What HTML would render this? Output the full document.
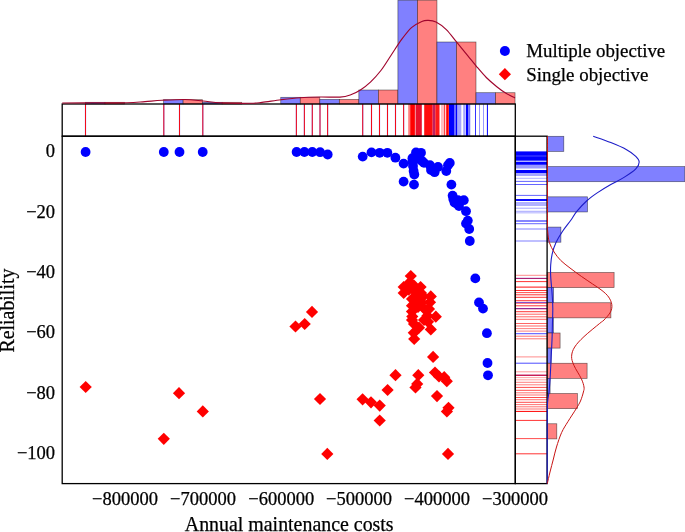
<!DOCTYPE html>
<html><head><meta charset="utf-8"><title>Scatter plot with marginal histograms</title>
<style>html,body{margin:0;padding:0;background:#fff;overflow:hidden}svg{display:block}</style></head>
<body>
<svg width="685" height="532" viewBox="0 0 685 532">
<rect width="685" height="532" fill="#fff"/>
<g stroke="#000" stroke-opacity="0.55" stroke-width="0.7">
<rect x="85.50" y="102.30" width="19.52" height="1.70" fill="#8080ff"/>
<rect x="105.03" y="102.30" width="19.52" height="1.70" fill="#ff8080"/>
<rect x="163.60" y="99.70" width="19.52" height="4.30" fill="#8080ff"/>
<rect x="183.12" y="99.70" width="19.52" height="4.30" fill="#ff8080"/>
<rect x="202.65" y="102.30" width="19.52" height="1.70" fill="#8080ff"/>
<rect x="222.17" y="102.30" width="19.52" height="1.70" fill="#ff8080"/>
<rect x="280.75" y="97.30" width="19.52" height="6.70" fill="#8080ff"/>
<rect x="300.27" y="97.30" width="19.52" height="6.70" fill="#ff8080"/>
<rect x="319.80" y="99.40" width="19.52" height="4.60" fill="#8080ff"/>
<rect x="339.32" y="99.40" width="19.52" height="4.60" fill="#ff8080"/>
<rect x="358.85" y="90.00" width="19.52" height="14.00" fill="#8080ff"/>
<rect x="378.37" y="90.00" width="19.52" height="14.00" fill="#ff8080"/>
<rect x="397.90" y="0.20" width="19.52" height="103.80" fill="#8080ff"/>
<rect x="417.42" y="0.20" width="19.52" height="103.80" fill="#ff8080"/>
<rect x="436.95" y="42.00" width="19.52" height="62.00" fill="#8080ff"/>
<rect x="456.47" y="42.00" width="19.52" height="62.00" fill="#ff8080"/>
<rect x="476.00" y="92.70" width="19.52" height="11.30" fill="#8080ff"/>
<rect x="495.52" y="92.70" width="19.52" height="11.30" fill="#ff8080"/>
</g>
<g stroke="#000" stroke-opacity="0.55" stroke-width="0.7">
<rect x="547.10" y="136.30" width="16.70" height="15.13" fill="#8080ff"/>
<rect x="547.10" y="166.56" width="137.70" height="15.13" fill="#8080ff"/>
<rect x="547.10" y="196.82" width="40.40" height="15.13" fill="#8080ff"/>
<rect x="547.10" y="227.08" width="13.80" height="15.13" fill="#8080ff"/>
<rect x="547.10" y="272.47" width="67.00" height="15.13" fill="#ff8080"/>
<rect x="547.10" y="287.60" width="6.50" height="15.13" fill="#8080ff"/>
<rect x="547.10" y="302.73" width="63.80" height="15.13" fill="#ff8080"/>
<rect x="547.10" y="317.86" width="6.30" height="15.13" fill="#8080ff"/>
<rect x="547.10" y="332.99" width="13.00" height="15.13" fill="#ff8080"/>
<rect x="547.10" y="348.12" width="4.00" height="15.13" fill="#8080ff"/>
<rect x="547.10" y="363.25" width="40.00" height="15.13" fill="#ff8080"/>
<rect x="547.10" y="378.38" width="3.00" height="15.13" fill="#8080ff"/>
<rect x="547.10" y="393.51" width="30.30" height="15.13" fill="#ff8080"/>
<rect x="547.10" y="423.77" width="9.70" height="15.13" fill="#ff8080"/>
</g>
<g stroke="#0000ff" stroke-width="1.2" stroke-opacity="0.5">
<line x1="85.5" y1="104.0" x2="85.5" y2="136.2"/>
<line x1="163.8" y1="104.0" x2="163.8" y2="136.2"/>
<line x1="179.5" y1="104.0" x2="179.5" y2="136.2"/>
<line x1="202.8" y1="104.0" x2="202.8" y2="136.2"/>
<line x1="296.4" y1="104.0" x2="296.4" y2="136.2"/>
<line x1="304.4" y1="104.0" x2="304.4" y2="136.2"/>
<line x1="312.3" y1="104.0" x2="312.3" y2="136.2"/>
<line x1="320.0" y1="104.0" x2="320.0" y2="136.2"/>
<line x1="327.6" y1="104.0" x2="327.6" y2="136.2"/>
<line x1="362.7" y1="104.0" x2="362.7" y2="136.2"/>
<line x1="371.5" y1="104.0" x2="371.5" y2="136.2"/>
<line x1="379.5" y1="104.0" x2="379.5" y2="136.2"/>
<line x1="387.5" y1="104.0" x2="387.5" y2="136.2"/>
<line x1="395.5" y1="104.0" x2="395.5" y2="136.2"/>
<line x1="403.6" y1="104.0" x2="403.6" y2="136.2"/>
</g>
<g stroke="#ff0000" stroke-width="1" stroke-opacity="0.9">
<line x1="85.5" y1="104.0" x2="85.5" y2="136.2"/>
<line x1="163.8" y1="104.0" x2="163.8" y2="136.2"/>
<line x1="179.5" y1="104.0" x2="179.5" y2="136.2"/>
<line x1="202.8" y1="104.0" x2="202.8" y2="136.2"/>
<line x1="296.4" y1="104.0" x2="296.4" y2="136.2"/>
<line x1="304.4" y1="104.0" x2="304.4" y2="136.2"/>
<line x1="312.3" y1="104.0" x2="312.3" y2="136.2"/>
<line x1="320.0" y1="104.0" x2="320.0" y2="136.2"/>
<line x1="327.6" y1="104.0" x2="327.6" y2="136.2"/>
<line x1="362.7" y1="104.0" x2="362.7" y2="136.2"/>
<line x1="371.5" y1="104.0" x2="371.5" y2="136.2"/>
<line x1="379.5" y1="104.0" x2="379.5" y2="136.2"/>
<line x1="387.5" y1="104.0" x2="387.5" y2="136.2"/>
<line x1="395.5" y1="104.0" x2="395.5" y2="136.2"/>
<line x1="403.6" y1="104.0" x2="403.6" y2="136.2"/>
</g>
<rect x="408.2" y="104.0" width="2.0" height="32.2" fill="#ff0000" fill-opacity="0.5"/>
<rect x="410.2" y="104.0" width="4.7" height="32.2" fill="#ff0000" fill-opacity="1"/>
<rect x="415.5" y="104.0" width="6.3" height="32.2" fill="#e8102c" fill-opacity="1"/>
<rect x="424.2" y="104.0" width="8.5" height="32.2" fill="#ff0000" fill-opacity="0.95"/>
<rect x="432.7" y="104.0" width="2.6" height="32.2" fill="#c02060" fill-opacity="1"/>
<rect x="435.3" y="104.0" width="4.2" height="32.2" fill="#ff0000" fill-opacity="0.9"/>
<rect x="441.0" y="104.0" width="3.0" height="32.2" fill="#ff0000" fill-opacity="0.25"/>
<rect x="444.2" y="104.0" width="1.0" height="32.2" fill="#ff0000" fill-opacity="0.9"/>
<rect x="446.2" y="104.0" width="2.6" height="32.2" fill="#ff0000" fill-opacity="1"/>
<rect x="449.0" y="104.0" width="5.2" height="32.2" fill="#0000ff" fill-opacity="1"/>
<rect x="454.2" y="104.0" width="1.5" height="32.2" fill="#0000ff" fill-opacity="0.6"/>
<rect x="455.7" y="104.0" width="1.5" height="32.2" fill="#0000ff" fill-opacity="1"/>
<rect x="457.2" y="104.0" width="4.1" height="32.2" fill="#0000ff" fill-opacity="0.35"/>
<rect x="463.2" y="104.0" width="2.2" height="32.2" fill="#0000ff" fill-opacity="0.35"/>
<rect x="465.9" y="104.0" width="2.6" height="32.2" fill="#0000ff" fill-opacity="1"/>
<rect x="469.2" y="104.0" width="1.0" height="32.2" fill="#0000ff" fill-opacity="0.7"/>
<rect x="475.0" y="104.0" width="1.0" height="32.2" fill="#0000ff" fill-opacity="0.8"/>
<rect x="479.0" y="104.0" width="1.0" height="32.2" fill="#0000ff" fill-opacity="0.4"/>
<rect x="483.0" y="104.0" width="1.0" height="32.2" fill="#0000ff" fill-opacity="0.4"/>
<rect x="486.9" y="104.0" width="1.0" height="32.2" fill="#0000ff" fill-opacity="1"/>
<rect x="515.3" y="151.4" width="31.8" height="9.3" fill="#0000ff" fill-opacity="1"/>
<rect x="515.3" y="155.5" width="31.8" height="1.0" fill="#fff" fill-opacity="0.3"/>
<rect x="515.3" y="161.7" width="31.8" height="3.1" fill="#0000ff" fill-opacity="1"/>
<rect x="515.3" y="165.0" width="31.8" height="3.5" fill="#0000ff" fill-opacity="0.4"/>
<rect x="515.3" y="170.0" width="31.8" height="3.0" fill="#0000ff" fill-opacity="1"/>
<rect x="515.3" y="173.0" width="31.8" height="3.0" fill="#0000ff" fill-opacity="0.35"/>
<rect x="515.3" y="177.8" width="31.8" height="1.0" fill="#0000ff" fill-opacity="0.3"/>
<rect x="515.3" y="180.9" width="31.8" height="1.0" fill="#0000ff" fill-opacity="0.6"/>
<rect x="515.3" y="184.0" width="31.8" height="1.0" fill="#0000ff" fill-opacity="0.6"/>
<rect x="515.3" y="194.9" width="31.8" height="1.0" fill="#0000ff" fill-opacity="0.6"/>
<rect x="515.3" y="199.0" width="31.8" height="2.0" fill="#0000ff" fill-opacity="0.95"/>
<rect x="515.3" y="202.5" width="31.8" height="1.0" fill="#0000ff" fill-opacity="0.6"/>
<rect x="515.3" y="204.5" width="31.8" height="1.0" fill="#0000ff" fill-opacity="0.6"/>
<rect x="515.3" y="207.7" width="31.8" height="1.0" fill="#0000ff" fill-opacity="0.35"/>
<rect x="515.3" y="210.8" width="31.8" height="1.0" fill="#0000ff" fill-opacity="0.35"/>
<rect x="515.3" y="212.4" width="31.8" height="0.9" fill="#0000ff" fill-opacity="0.35"/>
<rect x="515.3" y="220.5" width="31.8" height="1.0" fill="#0000ff" fill-opacity="0.95"/>
<rect x="515.3" y="223.2" width="31.8" height="1.0" fill="#0000ff" fill-opacity="0.6"/>
<rect x="515.3" y="228.5" width="31.8" height="1.0" fill="#0000ff" fill-opacity="0.5"/>
<rect x="515.3" y="240.5" width="31.8" height="1.0" fill="#0000ff" fill-opacity="0.5"/>
<rect x="515.3" y="277.9" width="31.8" height="1.0" fill="#0000ff" fill-opacity="0.8"/>
<rect x="515.3" y="302.0" width="31.8" height="1.0" fill="#0000ff" fill-opacity="0.6"/>
<rect x="515.3" y="308.1" width="31.8" height="1.0" fill="#0000ff" fill-opacity="0.8"/>
<rect x="515.3" y="333.2" width="31.8" height="1.0" fill="#0000ff" fill-opacity="0.7"/>
<rect x="515.3" y="362.7" width="31.8" height="1.0" fill="#0000ff" fill-opacity="0.7"/>
<rect x="515.3" y="374.8" width="31.8" height="1.0" fill="#0000ff" fill-opacity="0.8"/>
<rect x="515.3" y="274.8" width="31.8" height="1" fill="#ff0000" fill-opacity="0.45"/>
<rect x="515.3" y="277.9" width="31.8" height="1" fill="#ff0000" fill-opacity="0.6"/>
<rect x="515.3" y="281.1" width="31.8" height="1" fill="#ff0000" fill-opacity="0.8"/>
<rect x="515.3" y="286.6" width="31.8" height="1" fill="#ff0000" fill-opacity="0.95"/>
<rect x="515.3" y="290.0" width="31.8" height="1" fill="#ff0000" fill-opacity="0.8"/>
<rect x="515.3" y="292.1" width="31.8" height="1" fill="#ff0000" fill-opacity="0.7"/>
<rect x="515.3" y="294.3" width="31.8" height="1" fill="#ff0000" fill-opacity="0.8"/>
<rect x="515.3" y="296.8" width="31.8" height="1" fill="#ff0000" fill-opacity="0.8"/>
<rect x="515.3" y="300.2" width="31.8" height="1" fill="#ff0000" fill-opacity="0.8"/>
<rect x="515.3" y="302.7" width="31.8" height="1" fill="#ff0000" fill-opacity="0.7"/>
<rect x="515.3" y="305.3" width="31.8" height="1" fill="#ff0000" fill-opacity="0.8"/>
<rect x="515.3" y="308.3" width="31.8" height="1" fill="#ff0000" fill-opacity="0.6"/>
<rect x="515.3" y="311.2" width="31.8" height="1" fill="#ff0000" fill-opacity="0.8"/>
<rect x="515.3" y="313.7" width="31.8" height="1" fill="#ff0000" fill-opacity="0.6"/>
<rect x="515.3" y="316.3" width="31.8" height="1" fill="#ff0000" fill-opacity="0.6"/>
<rect x="515.3" y="318.8" width="31.8" height="1" fill="#ff0000" fill-opacity="0.6"/>
<rect x="515.3" y="323.0" width="31.8" height="1" fill="#ff0000" fill-opacity="0.6"/>
<rect x="515.3" y="325.5" width="31.8" height="1" fill="#ff0000" fill-opacity="0.6"/>
<rect x="515.3" y="328.1" width="31.8" height="1" fill="#ff0000" fill-opacity="0.5"/>
<rect x="515.3" y="330.6" width="31.8" height="1" fill="#ff0000" fill-opacity="0.5"/>
<rect x="515.3" y="335.7" width="31.8" height="1" fill="#ff0000" fill-opacity="0.55"/>
<rect x="515.3" y="338.3" width="31.8" height="1" fill="#ff0000" fill-opacity="0.55"/>
<rect x="515.3" y="356.4" width="31.8" height="1" fill="#ff0000" fill-opacity="0.45"/>
<rect x="515.3" y="371.3" width="31.8" height="1" fill="#ff0000" fill-opacity="0.4"/>
<rect x="515.3" y="374.7" width="31.8" height="1" fill="#ff0000" fill-opacity="0.95"/>
<rect x="515.3" y="377.1" width="31.8" height="1" fill="#ff0000" fill-opacity="0.35"/>
<rect x="515.3" y="379.3" width="31.8" height="1" fill="#ff0000" fill-opacity="0.35"/>
<rect x="515.3" y="381.8" width="31.8" height="1" fill="#ff0000" fill-opacity="0.5"/>
<rect x="515.3" y="384.3" width="31.8" height="1" fill="#ff0000" fill-opacity="0.5"/>
<rect x="515.3" y="386.9" width="31.8" height="1" fill="#ff0000" fill-opacity="0.7"/>
<rect x="515.3" y="389.8" width="31.8" height="1" fill="#ff0000" fill-opacity="0.7"/>
<rect x="515.3" y="392.3" width="31.8" height="1" fill="#ff0000" fill-opacity="0.55"/>
<rect x="515.3" y="394.5" width="31.8" height="1" fill="#ff0000" fill-opacity="0.55"/>
<rect x="515.3" y="397.0" width="31.8" height="1" fill="#ff0000" fill-opacity="0.7"/>
<rect x="515.3" y="399.2" width="31.8" height="1" fill="#ff0000" fill-opacity="0.55"/>
<rect x="515.3" y="401.8" width="31.8" height="1" fill="#ff0000" fill-opacity="0.7"/>
<rect x="515.3" y="404.1" width="31.8" height="1" fill="#ff0000" fill-opacity="0.55"/>
<rect x="515.3" y="406.3" width="31.8" height="1" fill="#ff0000" fill-opacity="0.55"/>
<rect x="515.3" y="408.5" width="31.8" height="1" fill="#ff0000" fill-opacity="0.55"/>
<rect x="515.3" y="410.9" width="31.8" height="1" fill="#ff0000" fill-opacity="1"/>
<rect x="515.3" y="419.9" width="31.8" height="1" fill="#ff0000" fill-opacity="0.8"/>
<rect x="515.3" y="438.1" width="31.8" height="1" fill="#ff0000" fill-opacity="0.7"/>
<rect x="515.3" y="453.3" width="31.8" height="1" fill="#ff0000" fill-opacity="0.8"/>
<g fill="none" stroke="#000" stroke-width="1.3">
<rect x="62.20" y="136.20" width="453.10" height="347.40"/>
<rect x="62.20" y="104.00" width="453.10" height="32.20"/>
<rect x="515.30" y="136.20" width="31.80" height="347.40"/>
</g>
<path d="M62.20,103.00 C66.83,102.97 79.20,102.83 90.00,102.80 C100.80,102.77 117.83,103.00 127.00,102.80 C136.17,102.60 139.17,102.02 145.00,101.60 C150.83,101.18 155.33,100.65 162.00,100.30 C168.67,99.95 178.17,99.38 185.00,99.50 C191.83,99.62 197.00,100.43 203.00,101.00 C209.00,101.57 213.17,102.52 221.00,102.90 C228.83,103.28 243.17,103.38 250.00,103.30 C256.83,103.22 256.83,103.00 262.00,102.40 C267.17,101.80 274.67,100.48 281.00,99.70 C287.33,98.92 293.50,98.15 300.00,97.70 C306.50,97.25 313.33,97.10 320.00,97.00 C326.67,96.90 334.97,97.43 340.00,97.10 C345.03,96.77 346.80,96.20 350.20,95.00 C353.60,93.80 356.98,92.10 360.40,89.90 C363.82,87.70 367.28,85.03 370.70,81.80 C374.12,78.57 377.50,74.93 380.90,70.50 C384.30,66.07 387.70,60.30 391.10,55.20 C394.50,50.10 397.90,44.50 401.30,39.90 C404.70,35.30 408.08,30.67 411.50,27.60 C414.92,24.53 419.07,22.70 421.80,21.50 C424.53,20.30 425.53,20.32 427.90,20.40 C430.27,20.48 432.93,20.47 436.00,22.00 C439.07,23.53 442.88,26.28 446.30,29.60 C449.72,32.92 452.90,37.53 456.50,41.90 C460.10,46.27 464.58,51.73 467.90,55.80 C471.22,59.87 473.33,62.68 476.40,66.30 C479.47,69.92 482.90,74.10 486.30,77.50 C489.70,80.90 493.52,84.07 496.80,86.70 C500.08,89.33 502.97,91.43 506.00,93.30 C509.03,95.17 513.50,97.13 515.00,97.90" fill="none" stroke="#a0052d" stroke-width="1.15"/>
<path d="M593.20,136.30 C596.13,137.35 605.23,140.37 610.80,142.60 C616.37,144.83 622.43,147.42 626.60,149.70 C630.77,151.98 633.70,154.23 635.80,156.30 C637.90,158.37 639.20,160.00 639.20,162.10 C639.20,164.20 638.33,166.35 635.80,168.90 C633.27,171.45 628.17,174.80 624.00,177.40 C619.83,180.00 615.20,181.97 610.80,184.50 C606.40,187.03 601.55,189.93 597.60,192.60 C593.65,195.27 590.60,197.33 587.10,200.50 C583.60,203.67 579.28,208.35 576.60,211.60 C573.92,214.85 573.33,216.72 571.00,220.00 C568.67,223.28 565.10,227.53 562.60,231.30 C560.10,235.07 557.73,238.85 556.00,242.60 C554.27,246.35 553.08,250.07 552.20,253.80 C551.32,257.53 550.95,261.23 550.70,265.00 C550.45,268.77 550.45,271.37 550.70,276.40 C550.95,281.43 551.85,289.88 552.20,295.20 C552.55,300.52 552.77,303.33 552.80,308.30 C552.83,313.27 552.53,319.72 552.40,325.00 C552.27,330.28 552.27,333.33 552.00,340.00 C551.73,346.67 551.13,358.33 550.80,365.00 C550.47,371.67 550.30,375.50 550.00,380.00 C549.70,384.50 549.40,388.33 549.00,392.00 C548.60,395.67 547.90,397.33 547.60,402.00 C547.30,406.67 547.27,406.40 547.20,420.00 C547.13,433.60 547.20,473.00 547.20,483.60" fill="none" stroke="#1c1cc8" stroke-width="1.1"/>
<path d="M547.50,136.30 C547.50,150.25 547.47,204.17 547.50,220.00 C547.53,235.83 547.38,227.53 547.70,231.30 C548.02,235.07 548.33,239.15 549.40,242.60 C550.47,246.05 552.22,249.03 554.10,252.00 C555.98,254.97 558.05,257.73 560.70,260.40 C563.35,263.07 566.55,265.33 570.00,268.00 C573.45,270.67 577.63,273.73 581.40,276.40 C585.17,279.07 589.17,281.65 592.60,284.00 C596.03,286.35 599.33,288.33 602.00,290.50 C604.67,292.67 606.97,294.65 608.60,297.00 C610.23,299.35 611.48,302.10 611.80,304.60 C612.12,307.10 611.80,309.43 610.50,312.00 C609.20,314.57 605.80,318.10 604.00,320.00 C602.20,321.90 603.03,320.63 599.70,323.40 C596.37,326.17 588.17,332.67 584.00,336.60 C579.83,340.53 576.77,343.72 574.70,347.00 C572.63,350.28 571.72,353.22 571.60,356.30 C571.48,359.38 572.38,361.77 574.00,365.50 C575.62,369.23 579.63,375.12 581.30,378.70 C582.97,382.28 583.65,384.78 584.00,387.00 C584.35,389.22 583.98,389.67 583.40,392.00 C582.82,394.33 581.73,398.17 580.50,401.00 C579.27,403.83 578.08,405.58 576.00,409.00 C573.92,412.42 570.40,417.57 568.00,421.50 C565.60,425.43 563.52,428.35 561.60,432.60 C559.68,436.85 557.87,442.60 556.50,447.00 C555.13,451.40 554.48,454.83 553.40,459.00 C552.32,463.17 551.02,467.90 550.00,472.00 C548.98,476.10 547.75,481.67 547.30,483.60" fill="none" stroke="#c81414" stroke-width="1.0"/>
<g fill="#0000ff">
<circle cx="85.6" cy="152.0" r="4.9"/>
<circle cx="163.8" cy="152.0" r="4.9"/>
<circle cx="179.5" cy="152.0" r="4.9"/>
<circle cx="202.7" cy="152.0" r="4.9"/>
<circle cx="296.6" cy="152.0" r="4.9"/>
<circle cx="304.4" cy="152.0" r="4.9"/>
<circle cx="312.3" cy="152.0" r="4.9"/>
<circle cx="320.1" cy="152.2" r="4.9"/>
<circle cx="327.7" cy="154.5" r="4.9"/>
<circle cx="362.7" cy="156.6" r="4.9"/>
<circle cx="371.5" cy="152.4" r="4.9"/>
<circle cx="379.7" cy="152.8" r="4.9"/>
<circle cx="387.4" cy="152.8" r="4.9"/>
<circle cx="395.4" cy="157.7" r="4.9"/>
<circle cx="403.6" cy="163.6" r="4.9"/>
<circle cx="403.6" cy="181.6" r="4.9"/>
<circle cx="414.0" cy="184.6" r="4.9"/>
<circle cx="412.4" cy="158.2" r="4.9"/>
<circle cx="416.0" cy="152.4" r="4.9"/>
<circle cx="421.0" cy="152.8" r="4.9"/>
<circle cx="413.6" cy="171.0" r="4.9"/>
<circle cx="414.3" cy="174.5" r="4.9"/>
<circle cx="412.4" cy="161.7" r="4.9"/>
<circle cx="419.4" cy="159.4" r="4.9"/>
<circle cx="424.0" cy="162.9" r="4.9"/>
<circle cx="430.0" cy="165.2" r="4.9"/>
<circle cx="434.6" cy="172.2" r="4.9"/>
<circle cx="431.0" cy="170.0" r="4.9"/>
<circle cx="438.0" cy="167.0" r="4.9"/>
<circle cx="446.3" cy="171.0" r="4.9"/>
<circle cx="448.0" cy="165.2" r="4.9"/>
<circle cx="449.8" cy="162.9" r="4.9"/>
<circle cx="451.4" cy="184.6" r="4.9"/>
<circle cx="452.6" cy="195.6" r="4.9"/>
<circle cx="453.3" cy="199.0" r="4.9"/>
<circle cx="454.5" cy="202.6" r="4.9"/>
<circle cx="458.0" cy="200.2" r="4.9"/>
<circle cx="463.8" cy="200.2" r="4.9"/>
<circle cx="459.0" cy="206.0" r="4.9"/>
<circle cx="466.0" cy="211.2" r="4.9"/>
<circle cx="467.8" cy="220.6" r="4.9"/>
<circle cx="466.0" cy="223.6" r="4.9"/>
<circle cx="469.2" cy="229.0" r="4.9"/>
<circle cx="469.8" cy="241.0" r="4.9"/>
<circle cx="413.0" cy="166.0" r="4.9"/>
<circle cx="422.0" cy="161.0" r="4.9"/>
<circle cx="456.5" cy="203.5" r="4.9"/>
<circle cx="475.3" cy="278.4" r="4.9"/>
<circle cx="479.0" cy="302.5" r="4.9"/>
<circle cx="483.0" cy="308.6" r="4.9"/>
<circle cx="486.9" cy="333.2" r="4.9"/>
<circle cx="487.5" cy="363.0" r="4.9"/>
<circle cx="488.0" cy="375.3" r="4.9"/>
</g>
<g fill="#ff0000">
<path d="M410.8,269.9l6.1,6.1l-6.1,6.1l-6.1,-6.1z"/>
<path d="M403.7,280.9l6.1,6.1l-6.1,6.1l-6.1,-6.1z"/>
<path d="M403.7,286.9l6.1,6.1l-6.1,6.1l-6.1,-6.1z"/>
<path d="M420.6,280.9l6.1,6.1l-6.1,6.1l-6.1,-6.1z"/>
<path d="M413.8,279.3l6.1,6.1l-6.1,6.1l-6.1,-6.1z"/>
<path d="M415.5,285.9l6.1,6.1l-6.1,6.1l-6.1,-6.1z"/>
<path d="M430.8,290.3l6.1,6.1l-6.1,6.1l-6.1,-6.1z"/>
<path d="M423.0,290.3l6.1,6.1l-6.1,6.1l-6.1,-6.1z"/>
<path d="M412.0,292.9l6.1,6.1l-6.1,6.1l-6.1,-6.1z"/>
<path d="M430.0,296.2l6.1,6.1l-6.1,6.1l-6.1,-6.1z"/>
<path d="M421.5,296.2l6.1,6.1l-6.1,6.1l-6.1,-6.1z"/>
<path d="M412.0,299.6l6.1,6.1l-6.1,6.1l-6.1,-6.1z"/>
<path d="M429.0,302.9l6.1,6.1l-6.1,6.1l-6.1,-6.1z"/>
<path d="M412.0,305.5l6.1,6.1l-6.1,6.1l-6.1,-6.1z"/>
<path d="M435.8,310.6l6.1,6.1l-6.1,6.1l-6.1,-6.1z"/>
<path d="M427.4,309.7l6.1,6.1l-6.1,6.1l-6.1,-6.1z"/>
<path d="M412.0,313.9l6.1,6.1l-6.1,6.1l-6.1,-6.1z"/>
<path d="M428.0,315.7l6.1,6.1l-6.1,6.1l-6.1,-6.1z"/>
<path d="M419.0,321.6l6.1,6.1l-6.1,6.1l-6.1,-6.1z"/>
<path d="M430.8,323.3l6.1,6.1l-6.1,6.1l-6.1,-6.1z"/>
<path d="M413.8,326.7l6.1,6.1l-6.1,6.1l-6.1,-6.1z"/>
<path d="M414.2,332.9l6.1,6.1l-6.1,6.1l-6.1,-6.1z"/>
<path d="M409.5,276.4l6.1,6.1l-6.1,6.1l-6.1,-6.1z"/>
<path d="M412.3,310.4l6.1,6.1l-6.1,6.1l-6.1,-6.1z"/>
<path d="M427.0,304.4l6.1,6.1l-6.1,6.1l-6.1,-6.1z"/>
<path d="M408.8,283.5l6.1,6.1l-6.1,6.1l-6.1,-6.1z"/>
<path d="M416.4,293.7l6.1,6.1l-6.1,6.1l-6.1,-6.1z"/>
<path d="M418.0,300.9l6.1,6.1l-6.1,6.1l-6.1,-6.1z"/>
<path d="M414.0,317.9l6.1,6.1l-6.1,6.1l-6.1,-6.1z"/>
<path d="M421.0,286.9l6.1,6.1l-6.1,6.1l-6.1,-6.1z"/>
<path d="M424.5,302.9l6.1,6.1l-6.1,6.1l-6.1,-6.1z"/>
<path d="M424.0,313.9l6.1,6.1l-6.1,6.1l-6.1,-6.1z"/>
<path d="M85.7,380.9l6.1,6.1l-6.1,6.1l-6.1,-6.1z"/>
<path d="M179.0,387.1l6.1,6.1l-6.1,6.1l-6.1,-6.1z"/>
<path d="M202.8,405.3l6.1,6.1l-6.1,6.1l-6.1,-6.1z"/>
<path d="M163.8,432.7l6.1,6.1l-6.1,6.1l-6.1,-6.1z"/>
<path d="M312.0,305.8l6.1,6.1l-6.1,6.1l-6.1,-6.1z"/>
<path d="M304.7,317.9l6.1,6.1l-6.1,6.1l-6.1,-6.1z"/>
<path d="M295.5,320.4l6.1,6.1l-6.1,6.1l-6.1,-6.1z"/>
<path d="M320.0,392.9l6.1,6.1l-6.1,6.1l-6.1,-6.1z"/>
<path d="M327.3,447.8l6.1,6.1l-6.1,6.1l-6.1,-6.1z"/>
<path d="M362.6,393.2l6.1,6.1l-6.1,6.1l-6.1,-6.1z"/>
<path d="M371.0,396.2l6.1,6.1l-6.1,6.1l-6.1,-6.1z"/>
<path d="M379.7,399.5l6.1,6.1l-6.1,6.1l-6.1,-6.1z"/>
<path d="M379.7,414.4l6.1,6.1l-6.1,6.1l-6.1,-6.1z"/>
<path d="M387.6,383.9l6.1,6.1l-6.1,6.1l-6.1,-6.1z"/>
<path d="M395.5,369.1l6.1,6.1l-6.1,6.1l-6.1,-6.1z"/>
<path d="M418.3,369.1l6.1,6.1l-6.1,6.1l-6.1,-6.1z"/>
<path d="M417.2,377.8l6.1,6.1l-6.1,6.1l-6.1,-6.1z"/>
<path d="M415.5,381.4l6.1,6.1l-6.1,6.1l-6.1,-6.1z"/>
<path d="M433.1,350.8l6.1,6.1l-6.1,6.1l-6.1,-6.1z"/>
<path d="M435.0,366.4l6.1,6.1l-6.1,6.1l-6.1,-6.1z"/>
<path d="M439.0,370.4l6.1,6.1l-6.1,6.1l-6.1,-6.1z"/>
<path d="M444.2,371.1l6.1,6.1l-6.1,6.1l-6.1,-6.1z"/>
<path d="M446.8,375.1l6.1,6.1l-6.1,6.1l-6.1,-6.1z"/>
<path d="M437.0,390.0l6.1,6.1l-6.1,6.1l-6.1,-6.1z"/>
<path d="M448.5,401.7l6.1,6.1l-6.1,6.1l-6.1,-6.1z"/>
<path d="M446.9,405.4l6.1,6.1l-6.1,6.1l-6.1,-6.1z"/>
<path d="M448.0,447.8l6.1,6.1l-6.1,6.1l-6.1,-6.1z"/>
</g>
<circle cx="504.9" cy="51" r="5" fill="#0000ff"/>
<path d="M504.9,68.1l6.1,6.1l-6.1,6.1l-6.1,-6.1z" fill="#ff0000"/>
<g font-family="'Liberation Serif', 'Times New Roman', serif" font-size="18.5" fill="#000" stroke="#000" stroke-width="0.25">
<text id="leg1" x="526.2" y="57" font-size="18.9">Multiple objective</text>
<text id="leg2" x="526.2" y="80.7" font-size="18.9">Single objective</text>
<text class="yt" x="55.1" y="157.2" text-anchor="end">0</text>
<text class="yt" x="55.1" y="217.6" text-anchor="end">−20</text>
<text class="yt" x="55.1" y="278.0" text-anchor="end">−40</text>
<text class="yt" x="55.1" y="338.4" text-anchor="end">−60</text>
<text class="yt" x="55.1" y="398.8" text-anchor="end">−80</text>
<text class="yt" x="55.1" y="459.2" text-anchor="end">−100</text>
<text class="xt" x="125.0" y="505" text-anchor="middle">−800000</text>
<text class="xt" x="203.0" y="505" text-anchor="middle">−700000</text>
<text class="xt" x="281.2" y="505" text-anchor="middle">−600000</text>
<text class="xt" x="359.0" y="505" text-anchor="middle">−500000</text>
<text class="xt" x="437.0" y="505" text-anchor="middle">−400000</text>
<text class="xt" x="515.0" y="505" text-anchor="middle">−300000</text>
<text id="xl" x="289.2" y="530.9" text-anchor="middle" font-size="19.9">Annual maintenance costs</text>
<text id="yl" transform="translate(14.2,310.6) rotate(-90)" text-anchor="middle" font-size="19.9">Reliability</text>
</g>
</svg>
</body></html>
